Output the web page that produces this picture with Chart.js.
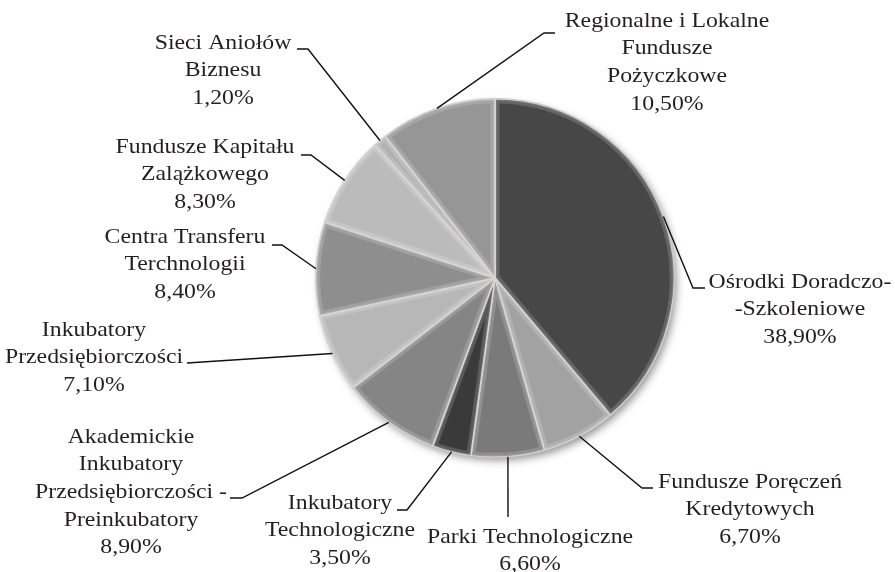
<!DOCTYPE html>
<html>
<head>
<meta charset="utf-8">
<script src="https://cdn.jsdelivr.net/npm/chart.js@4.4.1/dist/chart.umd.min.js"></script>
<style>
  html, body { margin: 0; padding: 0; background: #ffffff; }
  #wrap { width: 895px; height: 572px; position: relative; }
</style>
</head>
<body>
<div id="wrap"><canvas id="pieChart" width="895" height="572"></canvas></div>
<script>
// categories, clockwise from 12 o'clock
const categories = [
  ["Ośrodki Doradczo-", "-Szkoleniowe"],
  ["Fundusze Poręczeń", "Kredytowych"],
  ["Parki Technologiczne"],
  ["Inkubatory", "Technologiczne"],
  ["Akademickie", "Inkubatory", "Przedsiębiorczości -", "Preinkubatory"],
  ["Inkubatory", "Przedsiębiorczości"],
  ["Centra Transferu", "Terchnologii"],
  ["Fundusze Kapitału", "Zalążkowego"],
  ["Sieci Aniołów", "Biznesu"],
  ["Regionalne i Lokalne", "Fundusze", "Pożyczkowe"]
];
const shares = [38.9, 6.7, 6.6, 3.5, 8.9, 7.1, 8.4, 8.3, 1.2, 10.5];
const sliceColors = [
  "#474747", "#a2a2a2", "#7a7a7a", "#3a3a3a", "#858585",
  "#b7b7b7", "#8e8e8e", "#bbbbbb", "#afafaf", "#969696"
];

// label placement: text centre x, first line y, elbow point, line end near text
const labelLayout = [
  { x: 800, y: 282, elbow: [693, 288], end: [705, 288] },
  { x: 750, y: 482, elbow: [642, 488], end: [653, 488] },
  { x: 530, y: 537, elbow: [508, 517], end: [508, 517] },
  { x: 340, y: 503, elbow: [407, 510], end: [397, 510] },
  { x: 131, y: 437, elbow: [242, 498], end: [230, 498] },
  { x: 94,  y: 330, elbow: [187, 363], end: [187, 363] },
  { x: 185, y: 237, elbow: [282, 245], end: [272, 245] },
  { x: 205, y: 147, elbow: [311, 155], end: [301, 155] },
  { x: 223, y: 43,  elbow: [308, 49],  end: [297, 49] },
  { x: 667, y: 21,  elbow: [544, 33],  end: [555, 33] }
];
const lineGap = 27.6;
const textStretch = 1.08; // the source text is drawn a little wider than normal

function fmtPct(v) {
  return v.toFixed(2).replace(".", ",") + "%";
}

const shadowPlugin = {
  id: "pieShadow",
  beforeDatasetsDraw(chart) {
    const arc = chart.getDatasetMeta(0).data[0];
    if (!arc) return;
    const { x, y, outerRadius } = arc.getProps(["x", "y", "outerRadius"], true);
    const ctx = chart.ctx;
    ctx.save();
    ctx.shadowColor = "rgba(0,0,0,0.45)";
    ctx.shadowBlur = 9;
    ctx.shadowOffsetX = 3;
    ctx.shadowOffsetY = 4;
    ctx.fillStyle = "#666";
    ctx.beginPath();
    ctx.arc(x, y, outerRadius - 1, 0, Math.PI * 2);
    ctx.fill();
    ctx.restore();
  }
};

// soft bevel: light rim inside every slice
const bevelPlugin = {
  id: "sliceBevel",
  afterDatasetsDraw(chart) {
    const ctx = chart.ctx;
    chart.getDatasetMeta(0).data.forEach(arc => {
      const p = arc.getProps(["x", "y", "startAngle", "endAngle", "outerRadius"], true);
      ctx.save();
      ctx.beginPath();
      ctx.moveTo(p.x, p.y);
      ctx.arc(p.x, p.y, p.outerRadius, p.startAngle, p.endAngle);
      ctx.closePath();
      ctx.clip();
      ctx.strokeStyle = "rgba(255,255,255,0.16)";
      ctx.lineWidth = 9;
      ctx.stroke();
      ctx.strokeStyle = "rgba(255,255,255,0.12)";
      ctx.lineWidth = 4;
      ctx.stroke();
      ctx.restore();
    });
  }
};

const labelPlugin = {
  id: "leaderLabels",
  afterDatasetsDraw(chart) {
    const ctx = chart.ctx;
    const arcs = chart.getDatasetMeta(0).data;
    ctx.save();
    arcs.forEach((arc, i) => {
      const p = arc.getProps(["x", "y", "startAngle", "endAngle", "outerRadius"], true);
      const mid = (p.startAngle + p.endAngle) / 2;
      const ax = p.x + Math.cos(mid) * p.outerRadius;
      const ay = p.y + Math.sin(mid) * p.outerRadius;
      const lay = labelLayout[i];

      ctx.strokeStyle = "#111";
      ctx.lineWidth = 1.4;
      ctx.beginPath();
      ctx.moveTo(ax, ay);
      ctx.lineTo(lay.elbow[0], lay.elbow[1]);
      ctx.lineTo(lay.end[0], lay.end[1]);
      ctx.stroke();

      const lines = categories[i].concat([fmtPct(shares[i])]);
      ctx.fillStyle = "#231f20";
      ctx.font = "22px 'Liberation Serif', 'Times New Roman', serif";
      ctx.textAlign = "center";
      ctx.textBaseline = "middle";
      lines.forEach((t, k) => {
        ctx.save();
        ctx.translate(lay.x, lay.y + k * lineGap);
        ctx.scale(textStretch, 1);
        ctx.fillText(t, 0, 0);
        ctx.restore();
      });
    });
    ctx.restore();
  }
};

new Chart(document.getElementById("pieChart"), {
  type: "pie",
  data: {
    labels: categories.map(c => c.join(" ")),
    datasets: [{
      data: shares,
      backgroundColor: sliceColors,
      borderColor: "#cfc9c9",
      borderWidth: 1.5
    }]
  },
  options: {
    responsive: false,
    animation: false,
    rotation: 0,
    layout: { padding: { top: 98, bottom: 114, left: 315, right: 220 } },
    plugins: {
      legend: { display: false },
      tooltip: { enabled: false }
    }
  },
  plugins: [shadowPlugin, bevelPlugin, labelPlugin]
});
</script>
</body>
</html>
